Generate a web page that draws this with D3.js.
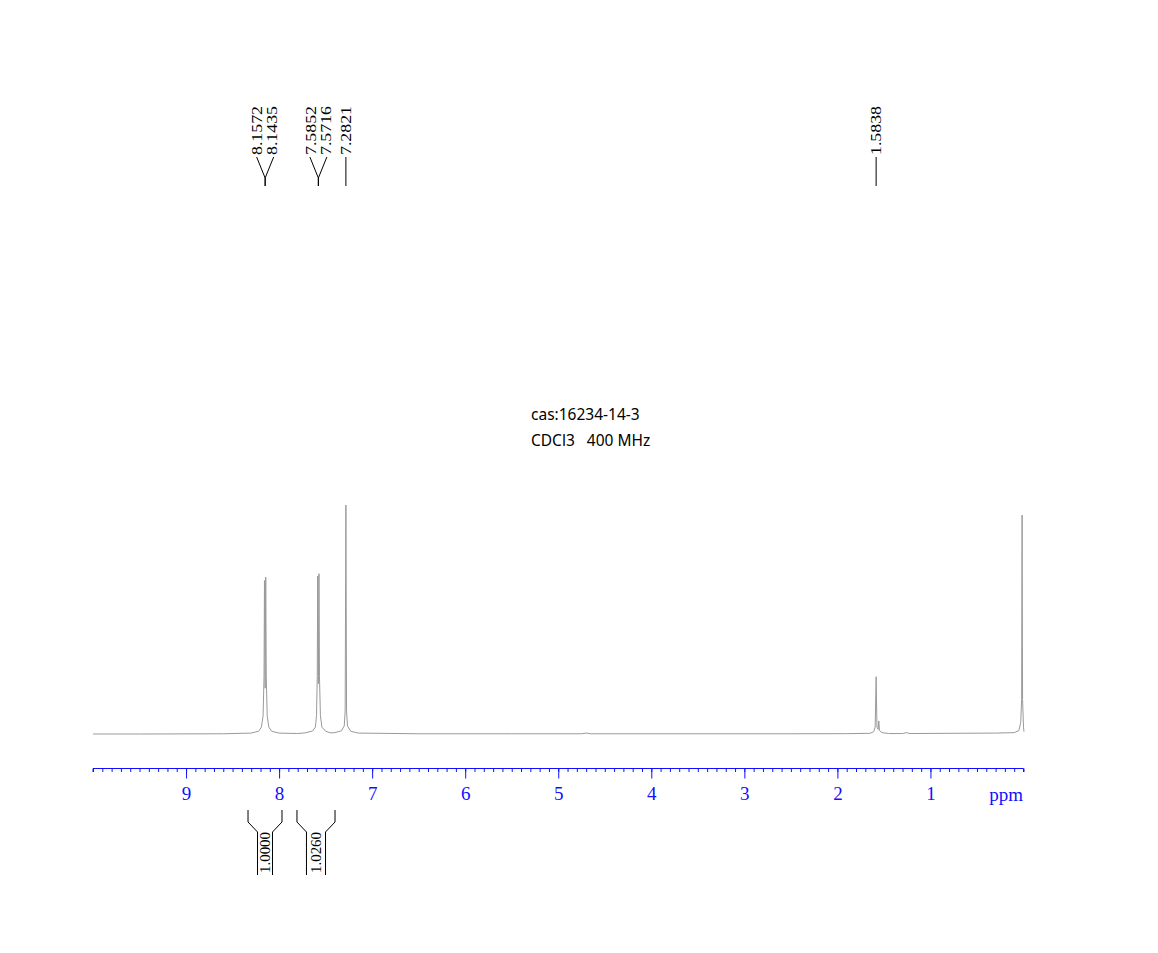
<!DOCTYPE html>
<html><head><meta charset="utf-8">
<script src="https://cdn.jsdelivr.net/npm/d3@7"></script>
<style>body{margin:0;background:#fff}svg{display:block}</style>
</head><body>
<script>
// ---- data ----
const spectrumPPM = [10.0, 9.5, 9.0, 8.6, 8.30, 8.22, 8.19, 8.172, 8.162, 8.1572, 8.150, 8.1435, 8.138, 8.128, 8.11, 8.08, 8.00,
  7.80, 7.72, 7.64, 7.61, 7.598, 7.590, 7.5852, 7.578, 7.5716, 7.566, 7.556, 7.54, 7.50, 7.45,
  7.40, 7.33, 7.30, 7.29, 7.2821, 7.275, 7.265, 7.23, 7.15, 6.5, 5.5, 4.75, 4.70, 4.65, 3.5, 2.5, 1.9,
  1.65, 1.61, 1.594, 1.5838, 1.575, 1.562, 1.555, 1.548, 1.52, 1.45, 1.30, 1.26, 1.22, 0.8, 0.3,
  0.10, 0.05, 0.03, 0.02, 0.015, 0.010, 0.0, -0.005];
const spectrumInt = [0.0, 0.0, 0.05, 0.1, 0.4, 1.2, 3.0, 8.0, 25.0, 67.0, 20.0, 68.5, 25.0, 8.0, 3.0, 1.2, 0.4,
  0.2, 0.5, 1.3, 3.0, 8.0, 25.0, 69.0, 22.0, 70.0, 25.0, 8.0, 3.0, 1.2, 0.5,
  0.6, 1.4, 3.5, 10.0, 100.0, 10.0, 3.5, 1.2, 0.4, 0.1, 0.1, 0.1, 0.4, 0.1, 0.1, 0.1, 0.15,
  0.3, 1.0, 3.0, 25.0, 3.0, 2.0, 5.7, 1.5, 0.6, 0.2, 0.2, 0.6, 0.2, 0.3, 0.4,
  0.6, 1.5, 5.0, 15.0, 95.6, 15.0, 3.0, 1.0];
const peakLabels = ['8.1572', '8.1435', '7.5852', '7.5716', '7.2821', '1.5838'];
const peakGroups = [[0, 1], [2, 3], [4], [5]];
const groupPPM = [8.150, 7.578, 7.2821, 1.5838];
const integralFrom = [8.334, 7.808];
const integralTo = [7.969, 7.399];
const integralLabels = ['1.0000', '1.0260'];
const axisTicks = [9, 8, 7, 6, 5, 4, 3, 2, 1];
const titleLines = ['cas:16234-14-3', 'CDCl3   400 MHz'];

// ---- chart ----
const W = 1158, H = 953;
const svg = d3.select('body').append('svg').attr('width', W).attr('height', H);
const x = d3.scaleLinear().domain([10, 0]).range([93, 1023.5]);
const y = d3.scaleLinear().domain([0, 100]).range([734, 505]);

// spectrum
const pts = spectrumPPM.map((p, i) => [p, spectrumInt[i]]);
svg.append('path')
  .attr('d', d3.line().x(d => x(d[0])).y(d => y(d[1]))(pts))
  .attr('fill', 'none').attr('stroke', '#9a9a9a').attr('stroke-width', 1);

// axis
const axisY = 768.5;
const blue = '#1010ff';
const ax = d3.axisBottom(x).tickValues(d3.range(0, 101).map(i => i / 10))
  .tickSize(3.5).tickFormat('');
const gMinor = svg.append('g').attr('transform', `translate(0,${axisY})`).call(ax);
gMinor.select('.domain').attr('stroke', blue).attr('d', `M${x(10)},3.5V0H${x(0)}V3.5`);
gMinor.selectAll('.tick line').attr('stroke', blue);
const axMaj = d3.axisBottom(x).tickValues(axisTicks).tickSize(10).tickFormat(d3.format('d'));
const gMaj = svg.append('g').attr('transform', `translate(0,${axisY})`).call(axMaj);
gMaj.select('.domain').remove();
gMaj.selectAll('.tick line').attr('stroke', blue);
gMaj.selectAll('.tick text').attr('fill', blue).attr('y', 31.5).attr('dy', 0)
  .style('font-family', '"Liberation Serif","Times New Roman",serif').style('font-size', '19px');
svg.append('text').attr('x', 1023).attr('y', 800.5).attr('text-anchor', 'end')
  .attr('fill', blue).style('font-family', '"Liberation Serif",serif').style('font-size', '19px').text('ppm');

// peak labels
const lblFont = '"Liberation Serif","Times New Roman",serif';
const gL = svg.append('g');
peakGroups.forEach((grp, gi) => {
  const px = x(groupPPM[gi]);
  const n = grp.length;
  grp.forEach((li, k) => {
    const off = (k - (n - 1) / 2);
    const lx = px + off * 15;
    const ax0 = px + off * 17;
    gL.append('path').attr('d', `M${ax0},157L${px},178V186`)
      .attr('fill', 'none').attr('stroke', '#000').attr('stroke-width', 1);
    gL.append('text').attr('transform', `translate(${lx + 4.8},155) rotate(-90)`)
      .style('font-family', lblFont).style('font-size', '14.5px')
      .attr('textLength', 49).attr('lengthAdjust', 'spacingAndGlyphs')
      .text(peakLabels[li]);
  });
});

// integrals
const gI = svg.append('g');
integralFrom.forEach((f, i) => {
  const x0 = x(f), x1 = x(integralTo[i]);
  const xi0 = x0 + 9.5, xi1 = x1 - 9.5;
  gI.append('path').attr('d', `M${x0},810V822L${xi0},832V875M${x1},810V822L${xi1},832V875`)
    .attr('fill', 'none').attr('stroke', '#000').attr('stroke-width', 1);
  gI.append('text').attr('transform', `translate(${(xi0 + xi1) / 2 + 5},873) rotate(-90)`)
    .style('font-family', lblFont).style('font-size', '15px')
    .attr('textLength', 41).attr('lengthAdjust', 'spacingAndGlyphs')
    .text(integralLabels[i]);
});

// title
titleLines.forEach((t, i) => {
  svg.append('text').attr('x', 531).attr('y', 420 + i * 26)
    .style('font-family', '"Noto Sans",sans-serif').style('font-size', '15.5px')
    .style('white-space', 'pre').attr('fill', '#000').text(t);
});
</script>
</body></html>
